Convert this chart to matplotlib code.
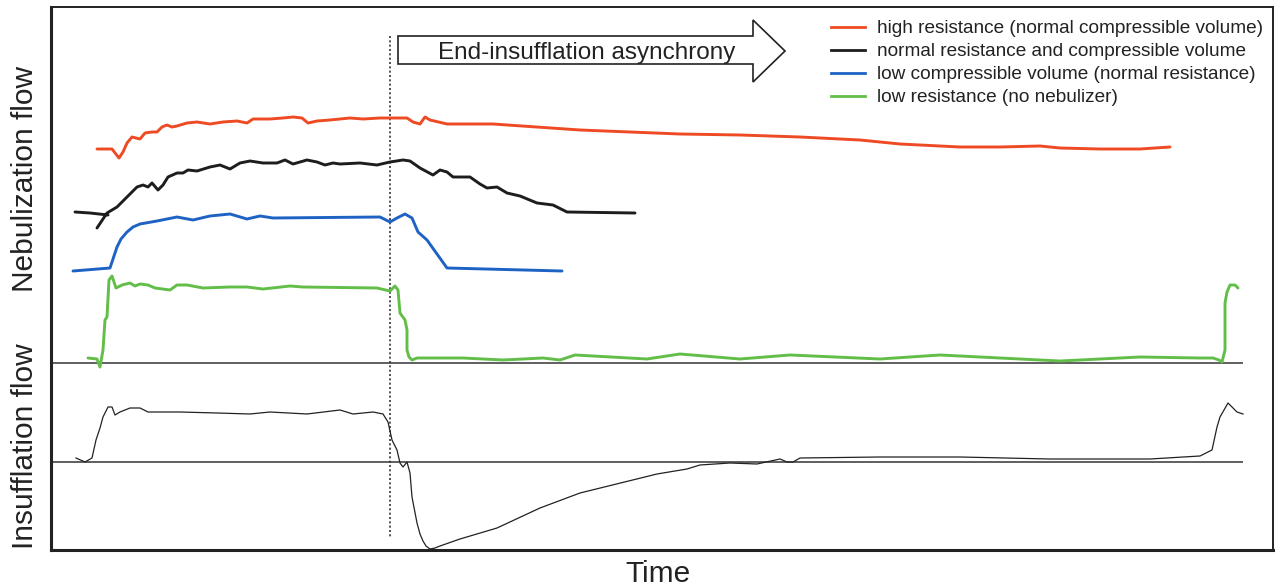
import numpy as np
import matplotlib
matplotlib.use("Agg")
import matplotlib.pyplot as plt
from matplotlib.lines import Line2D
from matplotlib.patches import Polygon

plt.rcParams['font.family'] = ['Liberation Sans', 'DejaVu Sans']

# ---- data (time units, flow units on an inverted vertical scale) ----
high_t = [97, 112, 119, 123, 127, 132, 136, 140, 145, 152, 157, 162, 167, 172, 177, 187, 197, 210, 223, 237, 247,
          253, 270, 283, 293, 302, 308, 317, 330, 350, 363, 380, 407, 413, 420, 425, 430, 447, 493, 580, 680,
          740, 800, 860, 900, 960, 1000, 1040, 1060, 1100, 1140, 1170]
high_v = [149, 149, 158, 152, 143, 137, 138, 139, 133, 132, 132, 127, 125, 127, 126, 123, 122, 124, 122, 121, 123,
          119, 119, 118, 117, 118, 123, 121, 120, 118, 119, 118, 118, 122, 124, 117, 120, 124, 124, 130, 134,
          135, 137, 140, 144, 147, 147, 146, 148, 149, 149, 147]

normal_t = [75, 90, 108, np.nan,
            97, 107, 117, 127, 137, 143, 148, 152, 158, 163, 168, 177, 183, 188, 197, 210, 220, 230, 240, 250,
            263, 277, 285, 293, 307, 317, 325, 333, 340, 360, 377, 390, 403, 410, 420, 433, 440, 447, 453, 470,
            480, 487, 497, 507, 520, 537, 553, 567, 635]
normal_v = [212, 213, 215, np.nan,
            228, 213, 207, 197, 187, 185, 187, 183, 190, 185, 177, 173, 173, 170, 171, 167, 165, 169, 163, 161,
            163, 163, 160, 164, 160, 162, 165, 163, 164, 163, 165, 162, 160, 161, 168, 175, 170, 172, 177, 177,
            184, 188, 187, 193, 196, 203, 205, 212, 213]

lowvol_t = [73, 110, 114, 117, 121, 127, 133, 140, 157, 177, 193, 210, 230, 247, 260, 273, 380, 390, 397, 405,
            412, 418, 427, 447, 562]
lowvol_v = [271, 268, 256, 247, 239, 232, 227, 224, 221, 217, 220, 216, 214, 219, 216, 218, 217, 222, 218, 214,
            218, 232, 240, 268, 271]

lowres_t = [88, 97, 100, 103, 105, 107, 109, 112, 116, 122, 130, 135, 140, 148, 155, 170, 177, 187, 203, 230,
            247, 263, 290, 303, 377, 390, 395, 398, 400, 405, 407, 407, 409, 412, 417, 463, 503, 543, 560, 575,
            647, 680, 740, 790, 880, 940, 1000, 1060, 1100, 1140, 1200, 1213, 1219, 1222, 1225, 1225, 1227, 1230,
            1235, 1238]
lowres_v = [358, 359, 367, 350, 320, 317, 280, 276, 288, 285, 283, 286, 284, 285, 288, 290, 285, 285, 288, 287,
            287, 289, 286, 287, 288, 291, 286, 290, 313, 320, 330, 350, 357, 360, 358, 358, 360, 358, 360, 355,
            359, 354, 359, 355, 359, 355, 358, 361, 359, 357, 358, 358, 360, 362, 350, 303, 292, 285, 285, 288]

insuf_t = [76, 85, 92, 96, 100, 103, 108, 112, 115, 120, 130, 140, 148, 180, 217, 250, 270, 307, 340, 353,
           373, 383, 388, 392, 397, 400, 403, 407, 410, 412, 417, 420, 423, 426, 430, 435, 440, 460, 497, 540,
           580, 657, 687, 700, 730, 757, 780, 787, 793, 800, 880, 960, 1050, 1150, 1200, 1212, 1217, 1220, 1228,
           1237, 1243]
insuf_v = [458, 462, 458, 440, 428, 417, 407, 407, 415, 412, 408, 408, 412, 412, 413, 414, 412, 414, 410, 414,
           412, 414, 422, 440, 450, 463, 467, 462, 473, 497, 523, 534, 541, 546, 549, 548, 546, 539, 528, 508,
           493, 474, 469, 465, 463, 464, 459, 462, 462, 458, 457, 457, 459, 459, 456, 450, 427, 417, 403, 412,
           414]

nebulization_baseline = 363
insufflation_baseline = 462
asynchrony_time = 390

series_labels = ["high resistance (normal compressible volume)",
                 "normal resistance and compressible volume",
                 "low compressible volume (normal resistance)",
                 "low resistance (no nebulizer)"]
series_colors = ["#EE4A24", "#1E1C1D", "#1E62C4", "#62BE48"]

# ---- figure ----
W, H = 1277, 588
fig = plt.figure(figsize=(W / 100, H / 100), dpi=100)
ax = fig.add_axes([51 / W, 38 / H, (1273 - 51) / W, (581 - 38) / H])
ax.set_xlim(51, 1273)
ax.set_ylim(550, 7)
ax.set_xticks([])
ax.set_yticks([])
for s in ['left', 'bottom']:
    ax.spines[s].set_linewidth(2.2)
for s in ['top', 'right']:
    ax.spines[s].set_linewidth(1.4)
for s in ax.spines.values():
    s.set_color('#222222')

# baselines
ax.hlines([nebulization_baseline, insufflation_baseline], 51, 1243, color='#444444', lw=1.2, zorder=1)
# dotted marker
ax.vlines(asynchrony_time, 36, 538, color='#333333', lw=1.2, linestyles=(0, (1.2, 1.4)), zorder=1)

lw = 2.1
kw = dict(lw=lw, solid_capstyle='round', solid_joinstyle='round', zorder=3)
ax.plot(high_t, high_v, color=series_colors[0], **kw)
ax.plot(normal_t, normal_v, color=series_colors[1], **kw)
ax.plot(lowvol_t, lowvol_v, color=series_colors[2], **kw)
ax.plot(lowres_t, lowres_v, color=series_colors[3], **kw)
ax.plot(insuf_t, insuf_v, color='#222222', lw=0.9, solid_joinstyle='round', zorder=3)

# arrow annotation
arrow = Polygon([(398, 36), (753, 36), (753, 20), (785, 51), (753, 82), (753, 64), (398, 64)],
                closed=True, fc='white', ec='#222222', lw=1.2, zorder=4)
ax.add_patch(arrow)
ax.text(587, 52.5, "End-insufflation asynchrony", fontsize=17.5, ha='center', va='center',
        color='#222222', zorder=5)

# legend
handles = [Line2D([], [], color=c, lw=2.0) for c in series_colors]
fig.legend(handles, series_labels, loc='upper left', bbox_to_anchor=(831 / W, (H - 20) / H),
           bbox_transform=fig.transFigure, frameon=False, fontsize=13.7, borderpad=0,
           borderaxespad=0, handlelength=1.8, handletextpad=0.6, labelspacing=0.3,
           labelcolor='#222222')

# axis labels
fig.text(25 / W, (H - 179) / H, "Nebulization flow", rotation=90, fontsize=21.5,
         ha='center', va='center', color='#222222')
fig.text(25 / W, (H - 446) / H, "Insufflation flow", rotation=90, fontsize=21.5,
         ha='center', va='center', color='#222222')
fig.text(658 / W, (H - 574) / H, "Time", fontsize=21.5, ha='center', va='center', color='#222222')

fig.savefig("out.png", dpi=100, facecolor='white')
